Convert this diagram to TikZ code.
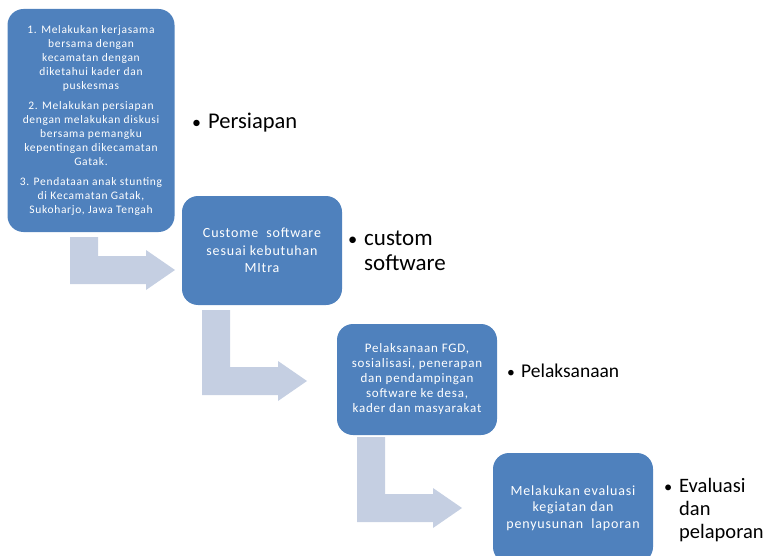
\documentclass[tikz,border=0pt]{standalone}
\usepackage{fontspec}
\setmainfont{Carlito}
\newfontfamily\boxfont{Carlito}[LetterSpace=6]
\usetikzlibrary{positioning}

\definecolor{stepblue}{RGB}{79,129,189}
\definecolor{flowgray}{RGB}{197,207,226}

\tikzset{
  stepbox/.style 2 args={fill=stepblue, rounded corners=16pt, text=white,
    align=center, inner sep=0pt, font=\boxfont\fontsize{#1}{#2}\selectfont},
  item/.style={anchor=base west, inner sep=0pt},
}

% bent arrow: left x, top y, bottom y
\newcommand\bentarrow[3]{%
  \fill[flowgray] (#1,#2) -- ++(28,0) |- (#1+76,#3-28) -- (#1+76,#3-34)
    -- (#1+105,#3-14) -- (#1+76,#3+6) -- (#1+76,#3) -- (#1,#3) -- cycle;}
\newcommand\dotmark{\scalebox{0.8}{\textbullet}}

\begin{document}
\begin{tikzpicture}[x=1pt,y=-1pt]
    \useasboundingbox (0,0) rectangle (765,556);
    \clip (0,0) rectangle (765,556);

    \bentarrow{70}{237}{284}
    \bentarrow{202}{310}{395}
    \bentarrow{357}{437}{522}

    \node[stepbox={11.5}{14}, minimum width=167pt, minimum height=223pt] (prep) at (91,120.5)
      {1. Melakukan kerjasama\\ bersama dengan\\ kecamatan dengan\\
       diketahui kader dan\\ puskesmas\\[6pt]
       2. Melakukan  persiapan\\ dengan melakukan diskusi\\ bersama pemangku\\
       kepentingan dikecamatan\\ Gatak.\\[6pt]
       3. Pendataan anak stunting\\ di Kecamatan Gatak,\\ Sukoharjo, Jawa Tengah};
    \node[stepbox={14}{17.5}, minimum width=160pt, minimum height=109pt] (soft) at (262,250.5)
      {Custome \ software\\ sesuai kebutuhan\\ MItra};
    \node[stepbox={13}{15}, minimum width=160pt, minimum height=111pt] (exec) at (417,379.5)
      {Pelaksanaan FGD,\\ sosialisasi, penerapan\\ dan pendampingan\\
       software ke desa,\\ kader dan masyarakat};
    \node[stepbox={14}{16.5}, minimum width=160pt, minimum height=110pt] (eval) at (573,508)
      {Melakukan evaluasi\\ kegiatan dan\\ penyusunan \ laporan};

    \node[item] (prepL) at (192,129) {\fontsize{22.5}{25}\selectfont
      \begin{tabular}[t]{@{}p{16pt}@{}l@{}}\dotmark & Persiapan\end{tabular}};
    \node[item] (softL) at (348,245) {\fontsize{23}{25}\selectfont
      \begin{tabular}[t]{@{}p{16pt}@{}l@{}}\dotmark & custom\\ & software\end{tabular}};
    \node[item] (execL) at (507,377) {\fontsize{19.5}{23}\selectfont
      \begin{tabular}[t]{@{}p{14pt}@{}l@{}}\dotmark & Pelaksanaan\end{tabular}};
    \node[item] (evalL) at (664,492) {\fontsize{20.5}{23}\selectfont
      \begin{tabular}[t]{@{}p{15pt}@{}l@{}}\dotmark & Evaluasi\\ & dan\\ & pelaporan\end{tabular}};
\end{tikzpicture}
\end{document}
